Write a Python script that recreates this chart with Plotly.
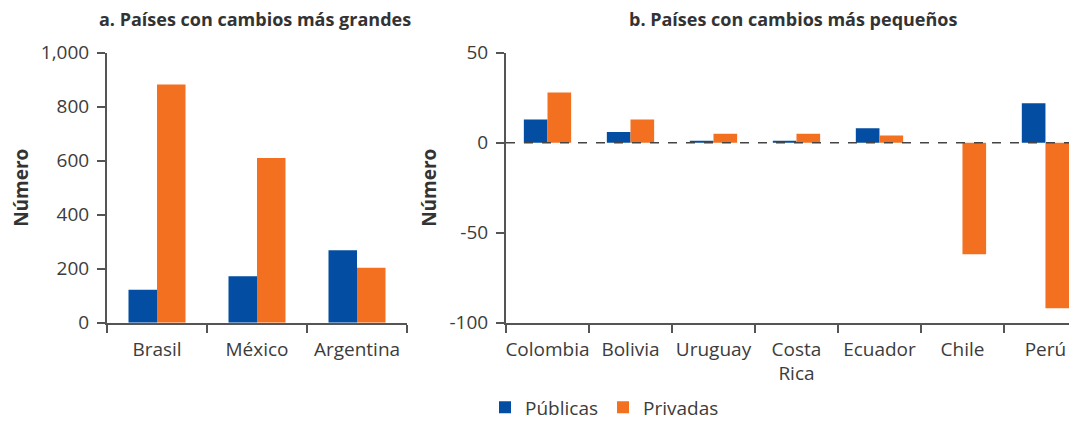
import plotly.graph_objects as go

# ---- data ----
paises_a = ["Brasil", "México", "Argentina"]
publicas_a = [122, 172, 268]
privadas_a = [883, 610, 204]

paises_b = ["Colombia", "Bolivia", "Uruguay", "Costa<br>Rica", "Ecuador", "Chile", "Perú"]
publicas_b = [13, 6, 1, 1, 8, 0, 22]
privadas_b = [28, 13, 5, 5, 4, -62, -92]

ticks_a_vals = [0, 200, 400, 600, 800, 1000]
ticks_a_text = ["0", "200", "400", "600", "800", "1,000"]
ticks_b_vals = [-100, -50, 0, 50]
ticks_b_text = ["-100", "-50", "0", "50"]

titulo_a = "a. Países con cambios más grandes"
titulo_b = "b. Países con cambios más pequeños"
eje_y = "Número"
serie_pub = "Públicas"
serie_priv = "Privadas"

AZUL = "#034EA2"
NARANJA = "#F37021"
GRIS = "#3c3c3c"
EJE = "#555555"
FONT = "Open Sans"

# the page body has an 8px margin: size the figure so it fits the window
OFF = 8
W, H = 1077 - OFF, 423 - OFF


def px(x):
    return (x - OFF) / W


def py(y):
    return 1 - (y - OFF) / H


fig = go.Figure()
fig.add_trace(go.Bar(x=paises_a, y=publicas_a, name=serie_pub, marker_color=AZUL,
                     marker_line_width=0, legendgroup="pub", xaxis="x", yaxis="y"))
fig.add_trace(go.Bar(x=paises_a, y=privadas_a, name=serie_priv, marker_color=NARANJA,
                     marker_line_width=0, legendgroup="priv", xaxis="x", yaxis="y"))
fig.add_trace(go.Bar(x=paises_b, y=publicas_b, name=serie_pub, marker_color=AZUL,
                     marker_line_width=0, legendgroup="pub", showlegend=False,
                     xaxis="x2", yaxis="y2"))
fig.add_trace(go.Bar(x=paises_b, y=privadas_b, name=serie_priv, marker_color=NARANJA,
                     marker_line_width=0, legendgroup="priv", showlegend=False,
                     xaxis="x2", yaxis="y2"))

ydom = [py(322.7), py(52.8)]

common_x = dict(type="category", showgrid=False, zeroline=False, showline=True,
                linecolor=EJE, linewidth=2, ticks="outside", tickson="boundaries",
                ticklen=8, tickwidth=1.5, tickcolor=EJE, tickangle=0, automargin=False,
                ticklabelstandoff=8,
                tickfont=dict(family=FONT, size=19, color=GRIS))
common_y = dict(showgrid=False, zeroline=False, showline=True, linecolor=EJE,
                linewidth=2, ticks="outside", ticklen=8, tickwidth=1.5, tickcolor=EJE,
                automargin=False, ticklabelstandoff=4,
                tickfont=dict(family=FONT, size=19, color=GRIS),
                title=dict(text="<b>" + eje_y + "</b>", standoff=8,
                           font=dict(family=FONT, size=19, color="#333333")))

fig.update_layout(
    width=W, height=H,
    margin=dict(l=0, r=0, t=0, b=0, autoexpand=False),
    paper_bgcolor="white", plot_bgcolor="white",
    barmode="group", bargap=0.43, bargroupgap=0,
    xaxis=dict(domain=[px(107), px(407)], anchor="y", range=[-0.5, 2.5], **common_x),
    yaxis=dict(domain=ydom, anchor="x", range=[0, 1000], tickvals=ticks_a_vals,
               ticktext=ticks_a_text, **common_y),
    xaxis2=dict(domain=[px(506), 1.0], anchor="y2", range=[-0.5, 6.38], **common_x),
    yaxis2=dict(domain=ydom, anchor="x2", range=[-100, 50], tickvals=ticks_b_vals,
                ticktext=ticks_b_text, **common_y),
    legend=dict(orientation="h", x=px(485), y=-0.008, xanchor="left", yanchor="bottom",
                font=dict(family=FONT, size=19, color=GRIS), itemwidth=30,
                bgcolor="rgba(0,0,0,0)"),
    showlegend=True,
)

fig.add_annotation(text="<b>" + titulo_a + "</b>", x=px(255), y=py(19),
                   xref="paper", yref="paper", showarrow=False,
                   xanchor="center", yanchor="middle",
                   font=dict(family=FONT, size=18, color="#333333"))
fig.add_annotation(text="<b>" + titulo_b + "</b>", x=px(793), y=py(19),
                   xref="paper", yref="paper", showarrow=False,
                   xanchor="center", yanchor="middle",
                   font=dict(family=FONT, size=18, color="#333333"))

fig.add_shape(type="line", xref="x2 domain", yref="y2", x0=0, x1=1, y0=0, y1=0,
              line=dict(color="#444444", width=1.5, dash="dash"), layer="above")

fig.write_html("out.html")
